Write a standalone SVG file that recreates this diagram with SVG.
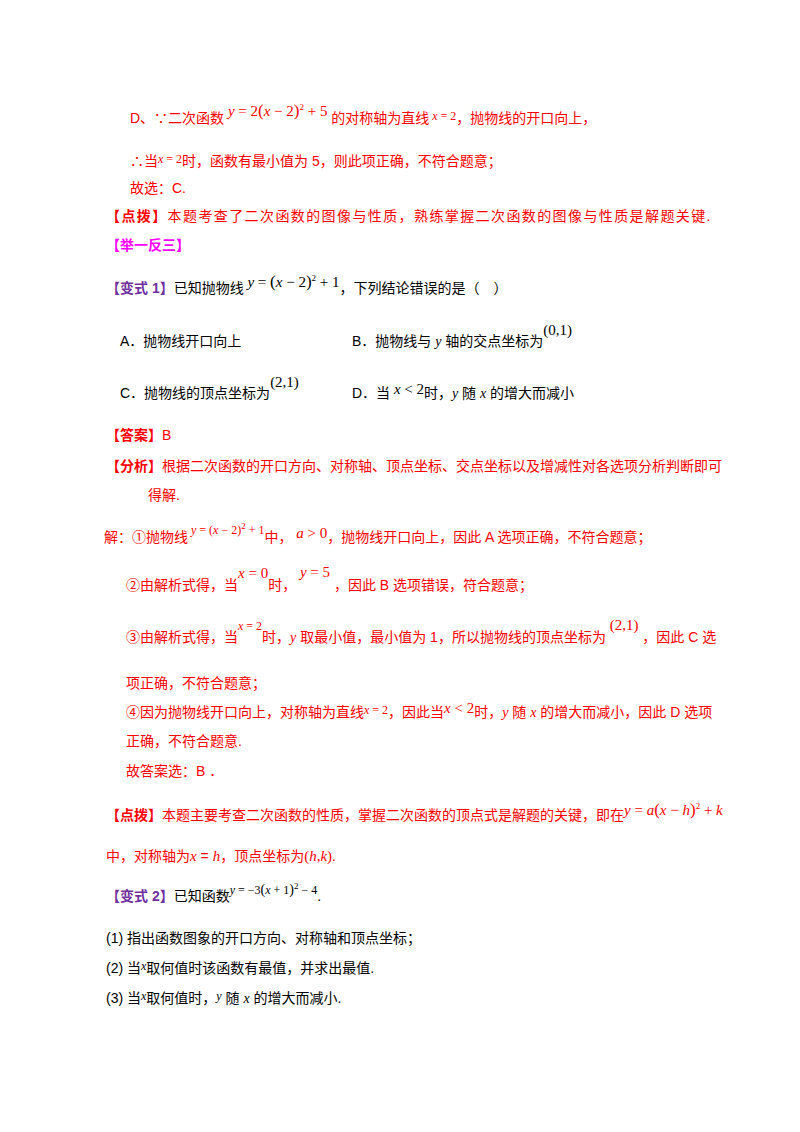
<svg xmlns="http://www.w3.org/2000/svg" width="800" height="1132" viewBox="0 0 800 1132">
<style>
text{font-family:"Liberation Sans","Noto Sans CJK SC",sans-serif;font-size:14px}
.r{fill:#ff0000}.k{fill:#000}.m{fill:#ff00ff;font-weight:bold}.p{fill:#7030a0;font-weight:bold}
.mt{font-family:"Liberation Serif",serif;font-size:15px}
.sm{font-family:"Liberation Serif",serif;font-size:12px}
.i{font-style:italic;font-family:"Liberation Serif",serif}
.sup{font-size:9px}
</style>
<rect width="800" height="1132" fill="#fff"/>
<g id="text">
<text class="r" x="130" y="123">D、∵二次函数<tspan class="mt" dy="-7"> <tspan class="i">y</tspan> = 2<tspan font-size="17">(</tspan><tspan class="i">x</tspan> − 2<tspan font-size="17">)</tspan><tspan class="sup" dy="-6">2</tspan><tspan dy="6"> + 5 </tspan></tspan><tspan dy="7">的对称轴为直线</tspan><tspan class="sm" dy="-3"> <tspan class="i">x</tspan> = 2</tspan><tspan dy="3">，抛物线的开口向上，</tspan></text>
<text class="r" x="130" y="166">∴当<tspan class="sm" dy="-3"><tspan class="i">x</tspan> = 2</tspan><tspan dy="3">时，函数有最小值为 5，则此项正确，不符合题意；</tspan></text>
<text class="r" x="130" y="193">故选：C.</text>
<text class="r" x="106" y="221" letter-spacing="1.4"><tspan font-weight="bold">【点拨】</tspan>本题考查了二次函数的图像与性质，熟练掌握二次函数的图像与性质是解题关键.</text>
<text class="m" x="106" y="250">【举一反三】</text>
<text class="k" x="106" y="293"><tspan class="p">【变式 1】</tspan>已知抛物线<tspan class="mt" dy="-6"> <tspan class="i">y</tspan> = <tspan font-size="17">(</tspan><tspan class="i">x</tspan> − 2<tspan font-size="17">)</tspan><tspan class="sup" dy="-6">2</tspan><tspan dy="6"> + 1</tspan></tspan><tspan dy="6">，下列结论错误的是（　）</tspan></text>
<text class="k" x="120" y="346">A．抛物线开口向上</text>
<text class="k" x="352" y="346">B．抛物线与 <tspan class="i">y</tspan> 轴的交点坐标为<tspan class="mt" dy="-11" font-size="16">(0,1)</tspan></text>
<text class="k" x="120" y="398">C．抛物线的顶点坐标为<tspan class="mt" dy="-11" font-size="16">(2,1)</tspan></text>
<text class="k" x="352" y="398">D．当<tspan class="mt" dy="-4"> <tspan class="i">x</tspan> &lt; 2</tspan><tspan dy="4">时，<tspan class="i">y</tspan> 随 <tspan class="i">x</tspan> 的增大而减小</tspan></text>
<text class="r" x="106" y="440"><tspan font-weight="bold">【答案】</tspan>B</text>
<text class="r" x="106" y="471"><tspan font-weight="bold">【分析】</tspan>根据二次函数的开口方向、对称轴、顶点坐标、交点坐标以及增减性对各选项分析判断即可</text>
<text class="r" x="148" y="500">得解.</text>
<text class="r" x="104" y="542">解：①抛物线<tspan class="sm" dy="-8"> <tspan class="i">y</tspan> = (<tspan class="i">x</tspan> − 2)<tspan class="sup" dy="-5">2</tspan><tspan dy="5"> + 1</tspan></tspan><tspan dy="8">中，</tspan><tspan class="mt" dy="-4">   <tspan class="i">a</tspan> &gt; 0</tspan><tspan dy="4">，抛物线开口向上，因此 A 选项正确，不符合题意；</tspan></text>
<text class="r" x="126" y="590">②由解析式得，当<tspan class="mt" dy="-12"><tspan class="i">x</tspan> = 0</tspan><tspan dy="12">时，</tspan><tspan class="mt" dy="-13">     <tspan class="i">y</tspan> = 5</tspan><tspan dy="13">     ，因此 B 选项错误，符合题意；</tspan></text>
<text class="r" x="126" y="642">③由解析式得，当<tspan class="sm" dy="-12"><tspan class="i">x</tspan> = 2</tspan><tspan dy="12">时，<tspan class="i">y</tspan> 取最小值，最小值为 1，所以抛物线的顶点坐标为</tspan><tspan class="mt" dy="-12">  (2,1)</tspan><tspan dy="12">  ，因此 C 选</tspan></text>
<text class="r" x="126" y="688">项正确，不符合题意；</text>
<text class="r" x="126" y="717">④因为抛物线开口向上，对称轴为直线<tspan class="sm" dy="-3"><tspan class="i">x</tspan> = 2</tspan><tspan dy="3">，因此当</tspan><tspan class="mt" dy="-4"><tspan class="i">x</tspan> &lt; 2</tspan><tspan dy="4">时，<tspan class="i">y</tspan> 随 <tspan class="i">x</tspan> 的增大而减小，因此 D 选项</tspan></text>
<text class="r" x="126" y="746">正确，不符合题意.</text>
<text class="r" x="126" y="776">故答案选：B ．</text>
<text class="r" x="106" y="820"><tspan font-weight="bold">【点拨】</tspan>本题主要考查二次函数的性质，掌握二次函数的顶点式是解题的关键，即在<tspan class="mt" dy="-5"><tspan class="i">y</tspan> = <tspan class="i">a</tspan><tspan font-size="17">(</tspan><tspan class="i">x</tspan> − <tspan class="i">h</tspan><tspan font-size="17">)</tspan><tspan class="sup" dy="-6">2</tspan><tspan dy="6"> + </tspan><tspan class="i">k</tspan></tspan></text>
<text class="r" x="106" y="861">中，对称轴为<tspan class="i" font-size="15">x</tspan> = <tspan class="i" font-size="15">h</tspan>，顶点坐标为<tspan class="mt" font-size="16">(<tspan class="i">h</tspan>,<tspan class="i">k</tspan>)</tspan>.</text>
<text class="k" x="106" y="901"><tspan class="p">【变式 2】</tspan>已知函数<tspan class="sm" dy="-7"><tspan class="i">y</tspan> = −3<tspan font-size="14">(</tspan><tspan class="i">x</tspan> + 1<tspan font-size="14">)</tspan><tspan class="sup" dy="-5">2</tspan><tspan dy="5"> − 4</tspan></tspan><tspan dy="7">.</tspan></text>
<text class="k" x="106" y="943">(1) 指出函数图象的开口方向、对称轴和顶点坐标；</text>
<text class="k" x="106" y="973">(2) 当<tspan class="sm i" dy="-3">x</tspan><tspan dy="3">取何值时该函数有最值，并求出最值.</tspan></text>
<text class="k" x="106" y="1003">(3) 当<tspan class="sm i" dy="-3">x</tspan><tspan dy="3">取何值时，</tspan><tspan class="sm i" dy="-3">y</tspan><tspan dy="3"> 随 </tspan><tspan class="i">x</tspan> 的增大而减小.</text>
</g>
</svg>
